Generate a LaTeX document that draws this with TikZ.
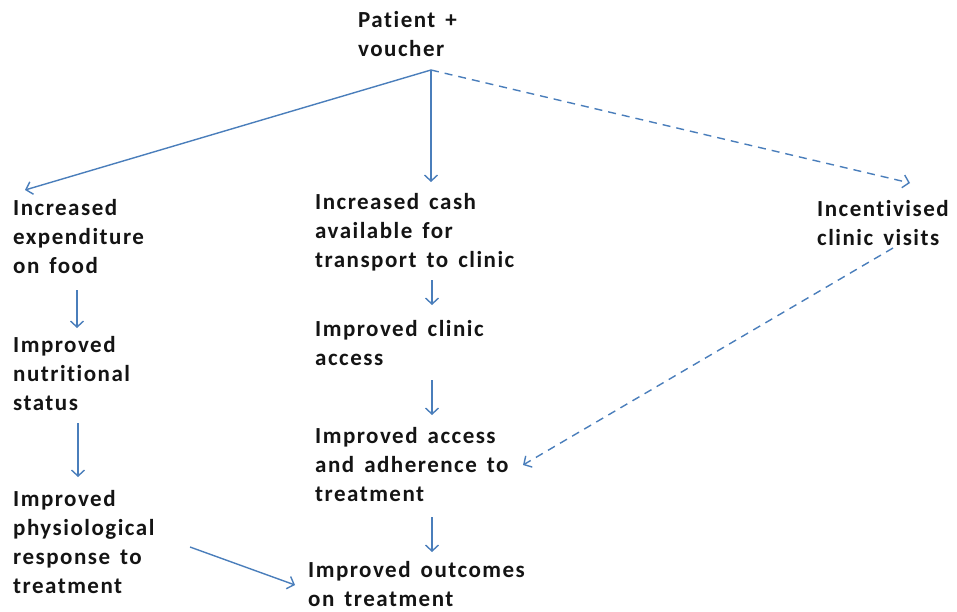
\documentclass[tikz,border=0pt]{standalone}
\usepackage{fontspec}
\setmainfont{Carlito}[LetterSpace=6.5,WordSpace=1.5,Ligatures=NoCommon]
\usetikzlibrary{arrows.meta,calc}
\definecolor{linkblue}{HTML}{4A7EBB}
\definecolor{inktext}{HTML}{141414}

\begin{document}
\begin{tikzpicture}[
  x=1pt, y=-1pt,
  outcome/.style={
    inner sep=0pt, anchor=base west, align=left, text=inktext,
    font=\fontsize{23}{29}\selectfont\bfseries
  },
  arr/.style={-{Straight Barb[length=6pt,width=13pt]}, line width=1.4pt, color=linkblue},
  darr/.style={arr, dash pattern=on 8pt off 6pt},
]
  \useasboundingbox (0,0) rectangle (957,612);

  % Starting point (nodes sit on the baseline of their last line)
  \node[outcome] (patient) at (358,57) {Patient +\\voucher};

  % Food pathway
  \node[outcome] (food) at (13,273) {Increased\\expenditure\\on food};
  \node[outcome] (nutri) at (13,410) {Improved\\nutritional\\status};
  \node[outcome] (physio) at (13,593) {Improved\\physiological\\response to\\treatment};

  % Transport pathway
  \node[outcome] (cash) at (315,267) {Increased cash\\available for\\transport to clinic};
  \node[outcome] (access) at (315,365) {Improved clinic\\access};
  \node[outcome] (adhere) at (315,501) {Improved access\\and adherence to\\treatment};
  \node[outcome] (result) at (308,606) {Improved outcomes\\on treatment};

  % Incentive pathway
  \node[outcome] (visits) at (817,245) {Incentivised\\clinic visits};

  % Arrows from the voucher
  \draw[arr] ([shift={(73,13)}]patient.base west) -- ([shift={(12,-83)}]food.base west);
  \draw[arr] ([shift={(73,13)}]patient.base west) -- ([shift={(116,-85)}]cash.base west);
  \draw[darr] ([shift={(73,13)}]patient.base west) -- ([shift={(93,-62)}]visits.base west);

  % Food chain
  \draw[arr] ([shift={(64,17)}]food.base west) -- ([shift={(64,-82)}]nutri.base west);
  \draw[arr] ([shift={(65,13)}]nutri.base west) -- ([shift={(65,-116)}]physio.base west);
  \draw[arr] ([shift={(177,-46)}]physio.base west) -- ([shift={(-13,-21)}]result.base west);

  % Transport chain
  \draw[arr] ([shift={(117,13)}]cash.base west) -- ([shift={(117,-60)}]access.base west);
  \draw[arr] ([shift={(117,15)}]access.base west) -- ([shift={(117,-86)}]adhere.base west);
  \draw[arr] ([shift={(117,16)}]adhere.base west) -- ([shift={(124,-54)}]result.base west);

  % Incentive link
  \draw[darr] ([shift={(76,3)}]visits.base west) -- ([shift={(208,-36)}]adhere.base west);
\end{tikzpicture}
\end{document}
